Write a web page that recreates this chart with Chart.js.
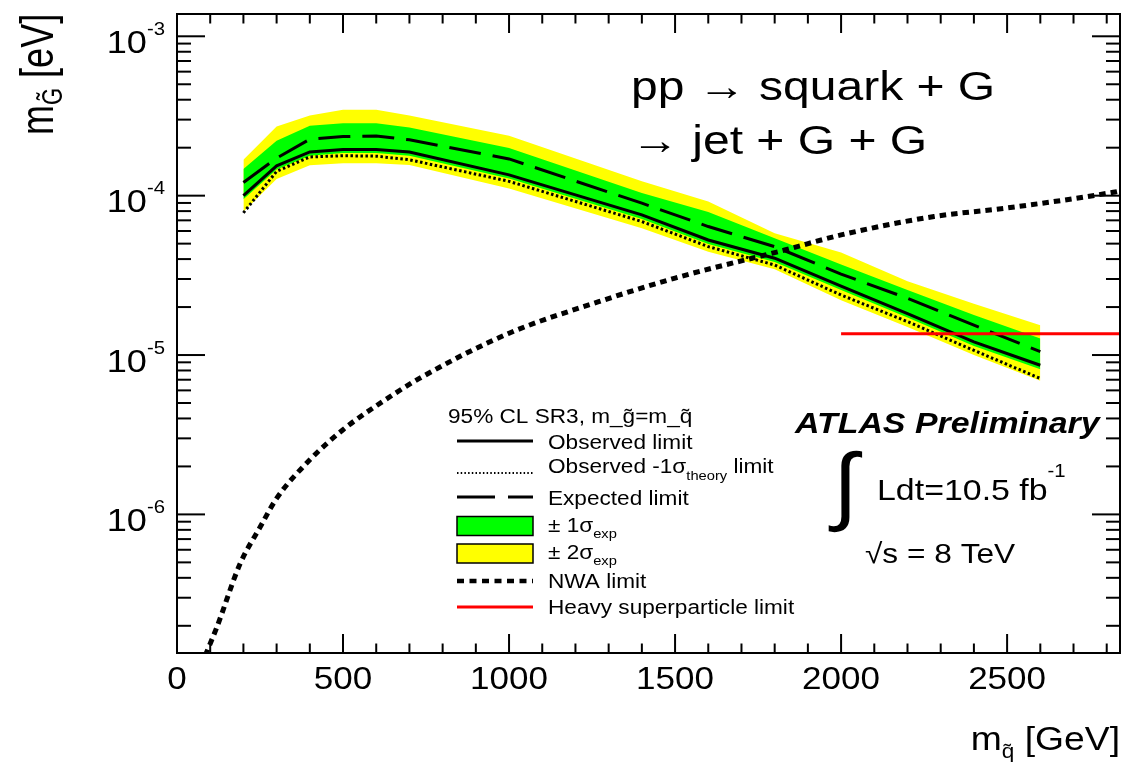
<!DOCTYPE html>
<html>
<head>
<meta charset="utf-8">
<title>squark + gravitino mass limits</title>
<script src="https://cdn.jsdelivr.net/npm/chart.js@4.4.1/dist/chart.umd.min.js"></script>
<style>
  html, body { margin: 0; padding: 0; background: #fff; }
  canvas { display: block; }
</style>
</head>
<body>
<canvas id="limitChart" width="1123" height="765"></canvas>
<script>
// squark mass scan points [GeV]
const massPoints = [200, 300, 400, 500, 600, 700, 1000, 1400, 1600, 1800, 2000, 2200, 2400, 2600];

// gravitino mass limits [eV]
const observed     = [1.0e-4, 1.54e-4, 1.88e-4, 1.95e-4, 1.95e-4, 1.88e-4, 1.35e-4, 7.57e-5, 5.27e-5, 4.05e-5, 2.71e-5, 1.82e-5, 1.21e-5, 8.63e-6];
const observedLow  = [7.8e-5, 1.42e-4, 1.75e-4, 1.78e-4, 1.77e-4, 1.68e-4, 1.23e-4, 6.88e-5, 4.79e-5, 3.67e-5, 2.38e-5, 1.62e-5, 1.07e-5, 7.13e-6];
const expected     = [1.21e-4, 1.72e-4, 2.26e-4, 2.35e-4, 2.37e-4, 2.24e-4, 1.70e-4, 8.97e-5, 6.4e-5, 4.79e-5, 3.22e-5, 2.27e-5, 1.54e-5, 1.05e-5];
const oneSigmaUp   = [1.47e-4, 2.21e-4, 2.75e-4, 2.85e-4, 2.85e-4, 2.68e-4, 1.99e-4, 1.04e-4, 7.9e-5, 5.4e-5, 3.7e-5, 2.56e-5, 1.78e-5, 1.27e-5];
const oneSigmaDown = [9.5e-5, 1.46e-4, 1.78e-4, 1.85e-4, 1.85e-4, 1.78e-4, 1.28e-4, 7.15e-5, 4.98e-5, 3.83e-5, 2.56e-5, 1.72e-5, 1.14e-5, 8.15e-6];
const twoSigmaUp   = [1.68e-4, 2.72e-4, 3.18e-4, 3.46e-4, 3.46e-4, 3.18e-4, 2.38e-4, 1.23e-4, 9.2e-5, 5.8e-5, 4.4e-5, 2.9e-5, 2.1e-5, 1.54e-5];
const twoSigmaDown = [7.94e-5, 1.27e-4, 1.55e-4, 1.60e-4, 1.60e-4, 1.56e-4, 1.11e-4, 6.25e-5, 4.45e-5, 3.45e-5, 2.21e-5, 1.5e-5, 1.0e-5, 6.9e-6];

// narrow width approximation limit
const nwaMass  = [85, 120, 190, 250, 300, 400, 500, 600, 730, 1000, 1270, 1500, 1830, 2000, 2280, 2500, 2820, 2850];
const nwaLimit = [1.3e-7, 1.96e-7, 4.9e-7, 8.3e-7, 1.26e-6, 2.2e-6, 3.4e-6, 4.8e-6, 7.13e-6, 1.37e-5, 2.16e-5, 3.04e-5, 4.56e-5, 5.67e-5, 7.4e-5, 8.37e-5, 1.05e-4, 1.08e-4];

// heavy superparticle limit
const heavyMass  = [2000, 2850];
const heavyLimit = [1.36e-5, 1.36e-5];

// axes
const xRange = [0, 2840];
const yRange = [1.35e-7, 1.38e-3];
const xTickLabels = [0, 500, 1000, 1500, 2000, 2500];
const xMinorStep = 100;
const yTickPowers = [-6, -5, -4, -3];

const FONT = '"Liberation Sans", Arial, Helvetica, sans-serif';
const SX = 1.13;

function pts(xs, ys) {
  return xs.map((x, i) => ({ x: x, y: ys[i] }));
}

// draws a row of text pieces [text, size, dy, style]
function drawRuns(ctx, x, y, runs, align, sx, sy) {
  sx = sx || SX; sy = sy || 1;
  ctx.save();
  let total = 0;
  const widths = runs.map(r => {
    ctx.font = (r[3] || '') + ' ' + r[1] + 'px ' + FONT;
    const w = ctx.measureText(r[0]).width * sx;
    total += w;
    return w;
  });
  let cx = align === 'right' ? x - total : align === 'center' ? x - total / 2 : x;
  ctx.fillStyle = '#000';
  ctx.textBaseline = 'alphabetic';
  ctx.textAlign = 'left';
  runs.forEach((r, i) => {
    ctx.font = (r[3] || '') + ' ' + r[1] + 'px ' + FONT;
    ctx.save();
    ctx.translate(cx, y + (r[2] || 0) * sy);
    ctx.scale(sx, sy);
    ctx.fillText(r[0], 0, 0);
    ctx.restore();
    cx += widths[i];
  });
  ctx.restore();
}

function seg(ctx, x1, y1, x2, y2) {
  ctx.beginPath();
  ctx.moveTo(x1, y1);
  ctx.lineTo(x2, y2);
  ctx.stroke();
}

const framePlugin = {
  id: 'frame',
  afterDraw(chart) {
    const ctx = chart.ctx;
    const { left, right, top, bottom } = chart.chartArea;
    const xs = chart.scales.x, ys = chart.scales.y;
    ctx.save();
    ctx.strokeStyle = '#000';
    ctx.lineWidth = 2;
    ctx.strokeRect(left, top, right - left, bottom - top);

    // x ticks, bottom and top
    for (let v = xRange[0] + xMinorStep; v < xRange[1]; v += xMinorStep) {
      const px = xs.getPixelForValue(v);
      const len = v % 500 === 0 ? 19 : 9.5;
      seg(ctx, px, bottom, px, bottom - len);
      seg(ctx, px, top, px, top + len);
    }
    // y ticks, left and right
    for (let p = -7; p <= -3; p++) {
      for (let k = 1; k <= 9; k++) {
        const v = k * Math.pow(10, p);
        if (v < yRange[0] || v > yRange[1]) continue;
        const py = ys.getPixelForValue(v);
        const len = k === 1 ? 28 : 14;
        seg(ctx, left, py, left + len, py);
        seg(ctx, right, py, right - len, py);
      }
    }

    // tick labels
    xTickLabels.forEach(v => {
      drawRuns(ctx, xs.getPixelForValue(v), 689, [[String(v), 31]], 'center');
    });
    yTickPowers.forEach(p => {
      const py = ys.getPixelForValue(Math.pow(10, p));
      drawRuns(ctx, 165, py + 16.6, [['10', 32], [String(p), 18, -18]], 'right');
    });

    // axis titles
    drawRuns(ctx, 1120, 750, [['m', 33], ['q\u0303', 20, 8], [' [GeV]', 33]], 'right');
    ctx.save();
    ctx.translate(53, 135);
    ctx.rotate(-Math.PI / 2);
    drawRuns(ctx, 0, 0, [['m', 36], ['G\u0303', 22, 7], [' [eV]', 36]], 'left', 1, 1.3);
    ctx.restore();

    // process
    drawRuns(ctx, 631, 100, [['pp \u2192 squark + G', 40]], 'left', 1.2);
    drawRuns(ctx, 631, 154, [['\u2192 jet + G + G', 40]], 'left', 1.2);

    // experiment labels
    drawRuns(ctx, 795, 433, [['ATLAS Preliminary', 30, 0, 'italic bold']], 'left');
    drawRuns(ctx, 833, 514, [['\u222B', 86]], 'left', 1.05);
    drawRuns(ctx, 877, 500, [['Ldt=10.5 fb', 30], ['-1', 18, -23]], 'left');
    drawRuns(ctx, 865, 563, [['\u221As = 8 TeV', 28]], 'left');

    // legend
    const lx1 = 457, lx2 = 533, tx = 548;
    drawRuns(ctx, 448, 423, [['95% CL SR3, m_g\u0303=m_q\u0303', 20]], 'left');
    ctx.lineWidth = 3;
    ctx.setLineDash([]);
    seg(ctx, lx1, 441, lx2, 441);
    drawRuns(ctx, tx, 449, [['Observed limit', 20]], 'left');
    ctx.lineWidth = 1.8;
    ctx.setLineDash([1.5, 2.2]);
    seg(ctx, lx1, 473, lx2, 473);
    drawRuns(ctx, tx, 473, [['Observed -1\u03C3', 20], ['theory', 13, 7], [' limit', 20]], 'left');
    ctx.lineWidth = 3;
    ctx.setLineDash([38, 13]);
    seg(ctx, lx1, 497, lx2, 497);
    drawRuns(ctx, tx, 505, [['Expected limit', 20]], 'left');
    ctx.setLineDash([]);
    ctx.lineWidth = 1.5;
    ctx.fillStyle = '#00ff00';
    ctx.fillRect(lx1, 516.5, lx2 - lx1, 19);
    ctx.strokeRect(lx1, 516.5, lx2 - lx1, 19);
    drawRuns(ctx, tx, 532, [['\u00B1 1\u03C3', 20], ['exp', 13, 6]], 'left');
    ctx.fillStyle = '#ffff00';
    ctx.fillRect(lx1, 544, lx2 - lx1, 19);
    ctx.strokeRect(lx1, 544, lx2 - lx1, 19);
    drawRuns(ctx, tx, 559, [['\u00B1 2\u03C3', 20], ['exp', 13, 6]], 'left');
    ctx.lineWidth = 4.5;
    ctx.setLineDash([7, 5.5]);
    seg(ctx, lx1, 581, lx2, 581);
    drawRuns(ctx, tx, 588, [['NWA limit', 20]], 'left');
    ctx.setLineDash([]);
    ctx.strokeStyle = '#ff0000';
    ctx.lineWidth = 3;
    seg(ctx, lx1, 607, lx2, 607);
    drawRuns(ctx, tx, 614, [['Heavy superparticle limit', 20]], 'left');
    ctx.restore();
  }
};

const band = (data, color, target, order) => ({
  data: data, borderWidth: 0, backgroundColor: color,
  fill: target === null ? false : target, order: order
});

new Chart(document.getElementById('limitChart'), {
  type: 'line',
  data: {
    datasets: [
      band(pts(massPoints, twoSigmaUp), '#ffff00', 1, 10),
      band(pts(massPoints, twoSigmaDown), '#ffff00', null, 10),
      band(pts(massPoints, oneSigmaUp), '#00ff00', 3, 9),
      band(pts(massPoints, oneSigmaDown), '#00ff00', null, 9),
      {
        label: 'Observed -1sigma theory limit',
        data: pts(massPoints, observedLow),
        borderColor: '#000', borderWidth: 3, borderDash: [2.5, 2.5], fill: false, order: 4
      },
      {
        label: 'Observed limit',
        data: pts(massPoints, observed),
        borderColor: '#000', borderWidth: 3, fill: false, order: 3
      },
      {
        label: 'Expected limit',
        data: pts(massPoints, expected),
        borderColor: '#000', borderWidth: 3, borderDash: [32, 12], fill: false, order: 2
      },
      {
        label: 'NWA limit',
        data: pts(nwaMass, nwaLimit),
        borderColor: '#000', borderWidth: 5, borderDash: [6.5, 5], fill: false, order: 1,
        cubicInterpolationMode: 'monotone'
      },
      {
        label: 'Heavy superparticle limit',
        data: pts(heavyMass, heavyLimit),
        borderColor: '#ff0000', borderWidth: 3, fill: false, order: 0
      }
    ]
  },
  options: {
    responsive: false,
    animation: false,
    layout: { padding: { left: 177, top: 14, right: 3, bottom: 112 } },
    elements: { point: { radius: 0 }, line: { tension: 0 } },
    scales: {
      x: { type: 'linear', min: xRange[0], max: xRange[1], display: false },
      y: { type: 'logarithmic', min: yRange[0], max: yRange[1], display: false }
    },
    plugins: { legend: { display: false }, tooltip: { enabled: false } }
  },
  plugins: [framePlugin]
});
</script>
</body>
</html>
